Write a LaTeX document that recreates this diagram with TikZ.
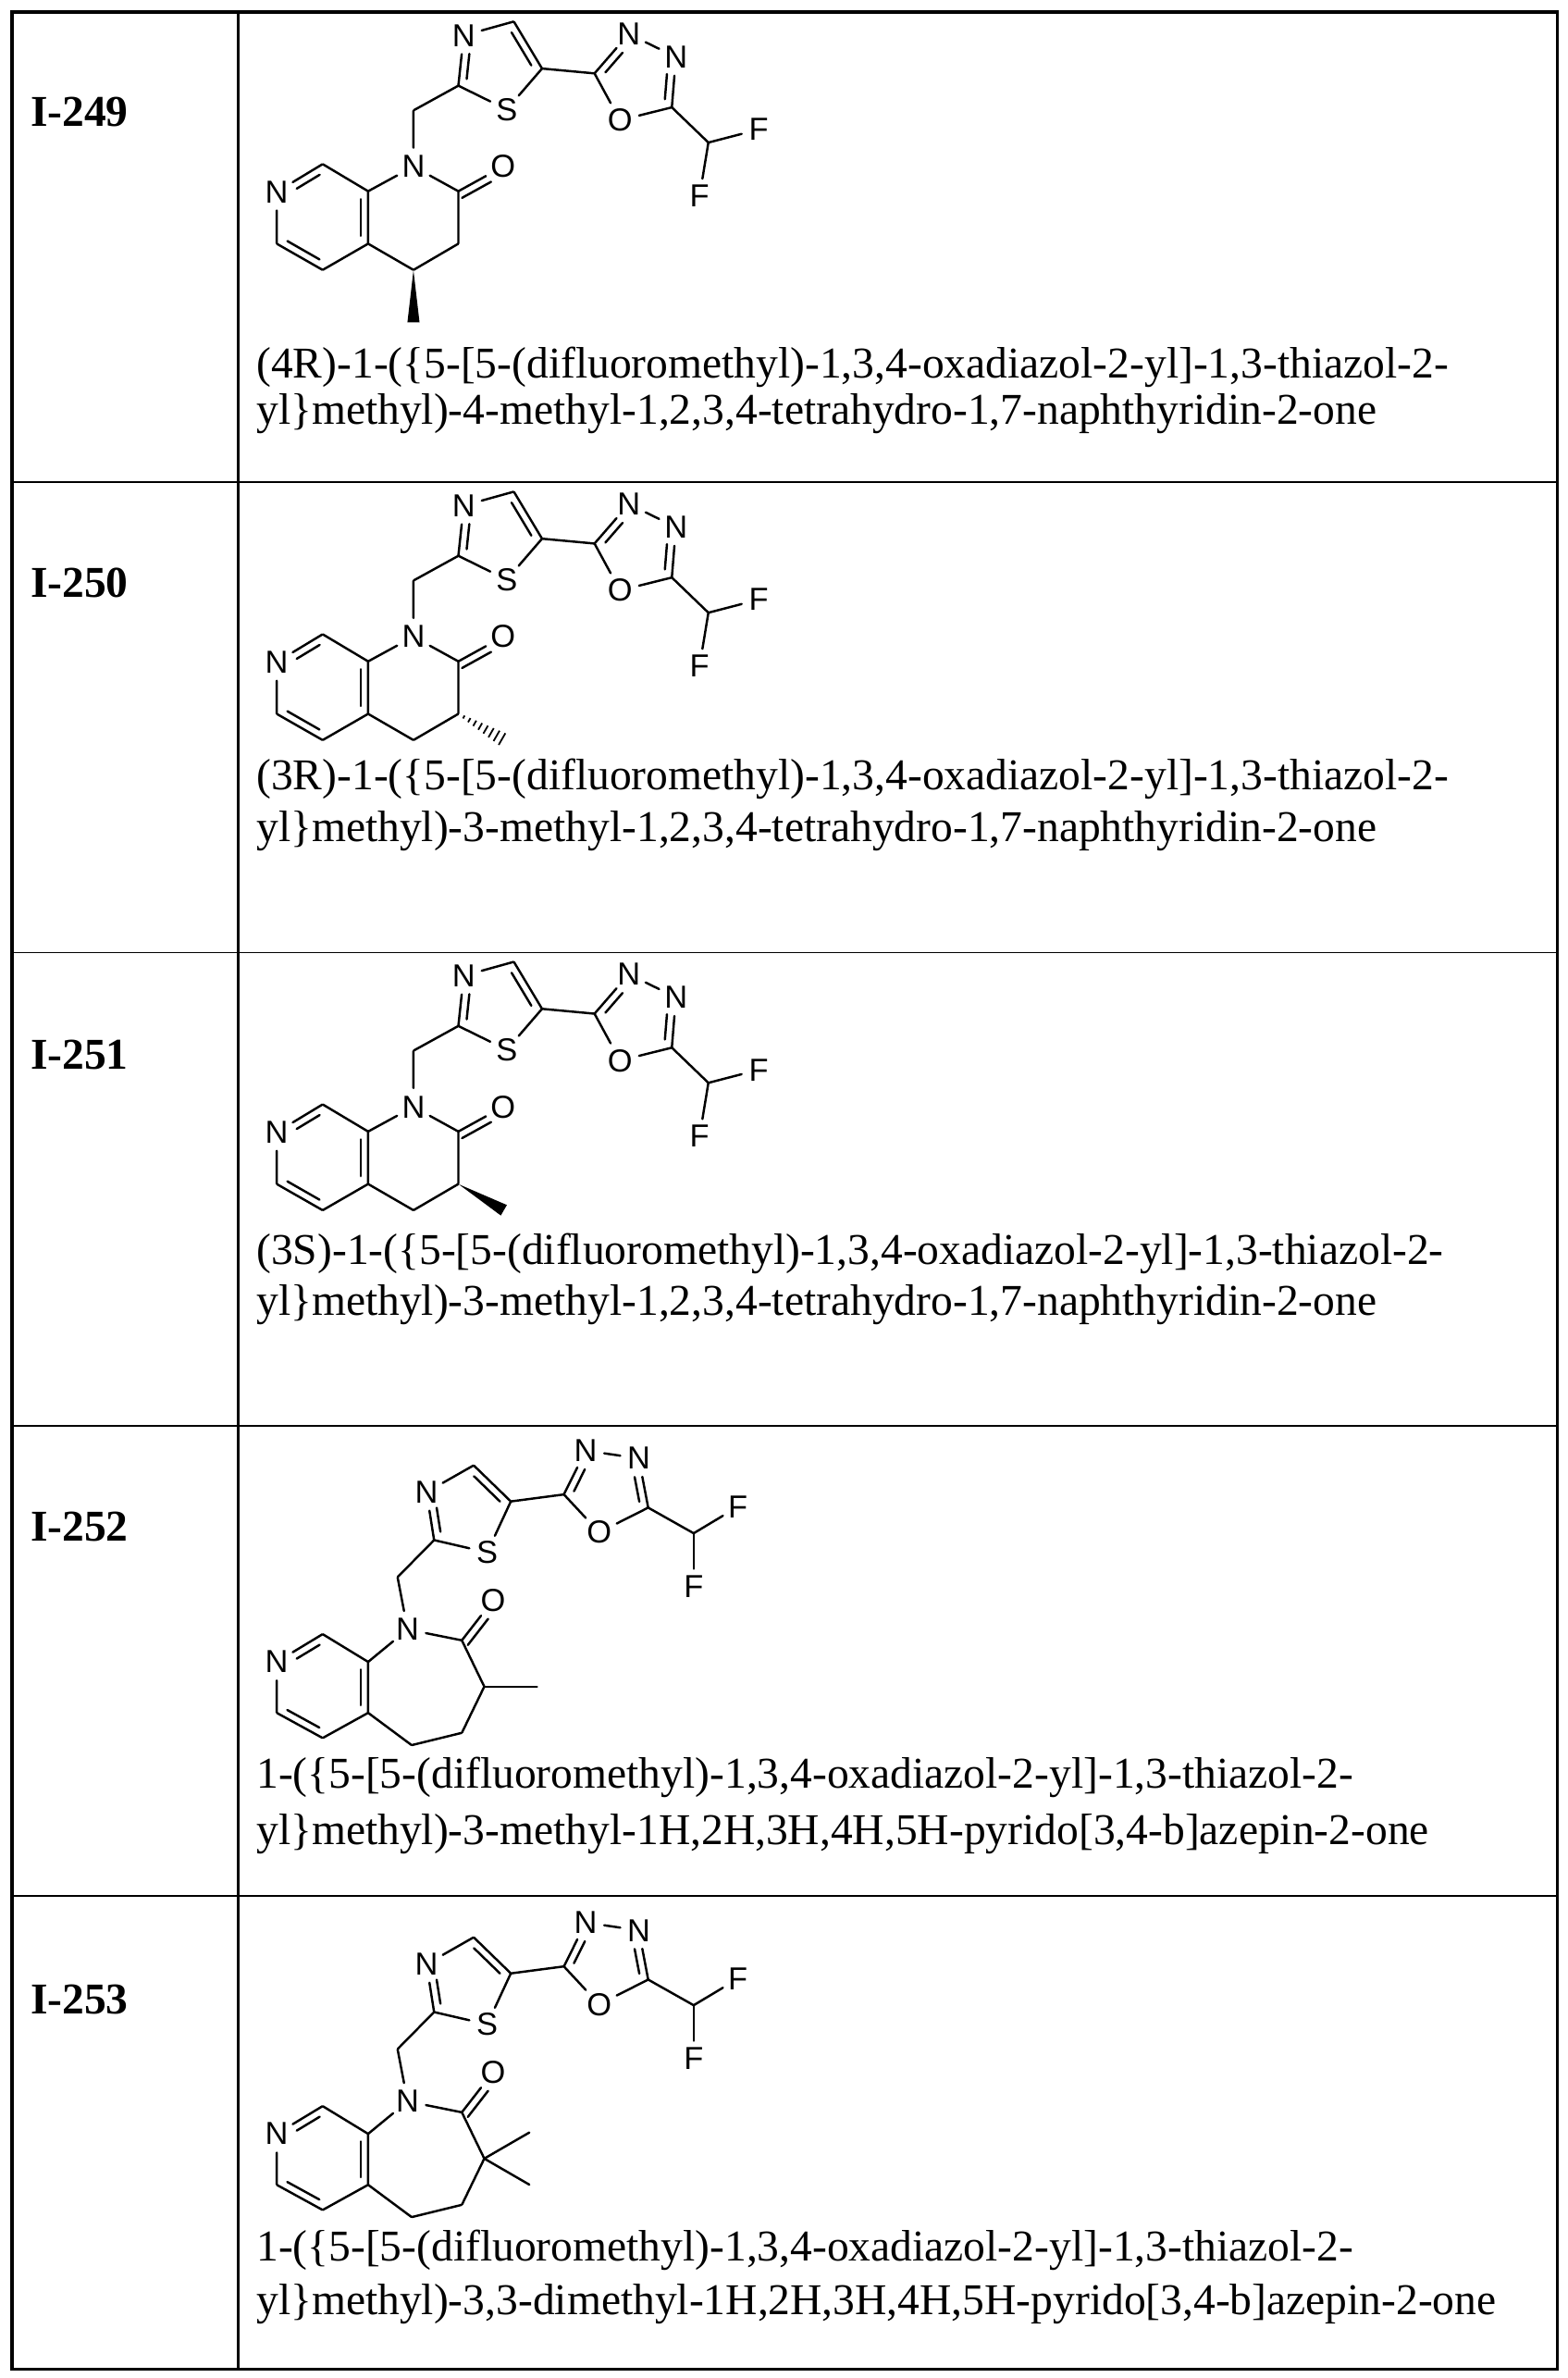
\documentclass[tikz,border=0pt]{standalone}
\usepackage{fontspec}
\setmainfont{Liberation Serif}
\newfontfamily\atomf{Liberation Sans}
\usetikzlibrary{calc}
\tikzset{
  atom/.style={font=\atomf\fontsize{21}{21}\selectfont, inner sep=1.2pt, circle},
  cpt/.style={inner sep=0pt, minimum size=0pt},
  bnd/.style={line width=1.5pt, line cap=round},
  txt/.style={font=\fontsize{29}{31}\selectfont, anchor=base west, inner sep=0pt},
  lbl/.style={font=\bfseries\fontsize{29}{31}\selectfont, anchor=base west, inner sep=0pt},
}
\newcommand\dbond[5]{%
  \path coordinate (F) at ($(#1)!(#3)!(#2)$) coordinate (D) at ($(F)!5pt!(#3)$);
  \draw[bnd] ($(#1)!#4!(#2)+(D)-(F)$) -- ($(#2)!#5!(#1)+(D)-(F)$);}
\newcommand\naph[2]{% shift, stereo: 0 wedge at C4, 1 hashed C3, 2 wedge C3
\begin{scope}[shift={(0,#1)}]
  \node[atom] (pN) at (182.5,126.5) {N};
  \node[cpt] (c8) at (212.8,108.2) {};
  \node[cpt] (c8a) at (242.8,126.1) {};
  \node[cpt] (c4a) at (242.8,160.7) {};
  \node[cpt] (c5) at (212.8,178) {};
  \node[cpt] (c6) at (182.5,160.7) {};
  \node[atom] (n1) at (272.7,109.8) {N};
  \node[cpt] (c2) at (302.3,126.1) {};
  \node[atom] (o) at (331.8,109.8) {O};
  \node[cpt] (c3) at (302.3,160.7) {};
  \node[cpt] (c4) at (272.7,178) {};
  \node[cpt] (ch2) at (272.7,72.8) {};
  \node[cpt] (t2) at (302.3,56.5) {};
  \node[atom] (t3) at (305.8,23.4) {N};
  \node[cpt] (t4) at (338.9,14.2) {};
  \node[cpt] (t5) at (357.5,45.2) {};
  \node[atom] (ts) at (334.2,72.2) {S};
  \node[cpt] (x2) at (392.1,48.4) {};
  \node[atom] (x3) at (414.7,22.4) {N};
  \node[atom] (x4) at (445.8,37.6) {N};
  \node[cpt] (x5) at (443.1,70.8) {};
  \node[atom] (xo) at (408.9,79.3) {O};
  \node[cpt] (cf) at (467.2,94) {};
  \node[atom] (f1) at (500.3,85.4) {F};
  \node[atom] (f2) at (461.4,129.2) {F};
  \coordinate (pc) at (212.8,143.4);
  \coordinate (tc) at (327.7,42.3);
  \coordinate (xc) at (420.9,51.7);
  \coordinate (os) at (335,140);
  \draw[bnd] (pN) -- (c8) -- (c8a) -- (c4a) -- (c5) -- (c6) -- (pN);
  \draw[bnd] (c8a) -- (n1) -- (c2) -- (c3) -- (c4) -- (c4a);
  \draw[bnd] (c2) -- (o);
  \draw[bnd] (n1) -- (ch2) -- (t2) -- (t3) -- (t4) -- (t5) -- (ts) -- (t2);
  \draw[bnd] (t5) -- (x2) -- (x3) -- (x4) -- (x5) -- (xo) -- (x2);
  \draw[bnd] (x5) -- (cf) -- (f1);
  \draw[bnd] (cf) -- (f2);
  \dbond{pN}{c8}{pc}{0.35}{0.15}
  \dbond{c8a}{c4a}{pc}{0.15}{0.15}
  \dbond{c5}{c6}{pc}{0.15}{0.15}
  \dbond{t2}{t3}{tc}{0.15}{0.35}
  \dbond{t4}{t5}{tc}{0.15}{0.15}
  \dbond{x2}{x3}{xc}{0.15}{0.35}
  \dbond{x4}{x5}{xc}{0.35}{0.15}
  \dbond{c2}{o}{os}{0.0}{0.35}
  \ifcase#2
    \coordinate (me) at (272.7,212.6);
    \fill (c4) -- ($(me)!4pt!90:(c4)$) -- ($(me)!4pt!-90:(c4)$) -- cycle;
  \or
    \coordinate (me) at (332.3,178);
    \foreach \t in {0.12,0.24,...,1.0}{
      \pgfmathsetmacro\w{0.6+4*\t}
      \draw[line width=1.1pt] ($(c3)!\t!(me)!\w pt!90:(me)$) -- ($(c3)!\t!(me)!\w pt!-90:(me)$);}
  \or
    \coordinate (me) at (332.3,178);
    \fill (c3) -- ($(me)!4pt!90:(c3)$) -- ($(me)!4pt!-90:(c3)$) -- cycle;
  \fi
\end{scope}}
\newcommand\azep[2]{% shift, 0 methyl, 1 dimethyl
\begin{scope}[shift={(0,#1)}]
  \node[atom] (pN) at (182.5,155.6) {N};
  \node[cpt] (c8) at (212.8,137.3) {};
  \node[cpt] (c8a) at (242.8,155.6) {};
  \node[cpt] (c4a) at (242.8,189.2) {};
  \node[cpt] (c5) at (212.8,205.8) {};
  \node[cpt] (c6) at (182.5,189.2) {};
  \node[atom] (n1) at (268.8,134.2) {N};
  \node[cpt] (c2) at (304.6,141.4) {};
  \node[atom] (o) at (325.2,114.9) {O};
  \node[cpt] (c3) at (319.4,171.9) {};
  \node[cpt] (a4) at (304.6,202.4) {};
  \node[cpt] (a5) at (271.5,210.5) {};
  \node[cpt] (ch2) at (262.2,99.7) {};
  \node[cpt] (t2) at (286.3,75.3) {};
  \node[atom] (t3) at (281.3,43.7) {N};
  \node[cpt] (t4) at (312.4,26) {};
  \node[cpt] (t5) at (336.9,49.8) {};
  \node[atom] (ts) at (321.3,83.4) {S};
  \node[cpt] (x2) at (371.9,45.2) {};
  \node[atom] (x3) at (386.3,16.3) {N};
  \node[atom] (x4) at (421.3,21.4) {N};
  \node[cpt] (x5) at (427.5,53.9) {};
  \node[atom] (xo) at (395.2,70.2) {O};
  \node[cpt] (cf) at (457.5,70.8) {};
  \node[atom] (f1) at (486.7,53.3) {F};
  \node[atom] (f2) at (457.5,105.8) {F};
  \coordinate (pc) at (212.8,171.5);
  \coordinate (tc) at (307.6,55.6);
  \coordinate (xc) at (400.4,41.4);
  \coordinate (os) at (340,140);
  \draw[bnd] (pN) -- (c8) -- (c8a) -- (c4a) -- (c5) -- (c6) -- (pN);
  \draw[bnd] (c8a) -- (n1) -- (c2) -- (c3) -- (a4) -- (a5) -- (c4a);
  \draw[bnd] (c2) -- (o);
  \draw[bnd] (n1) -- (ch2) -- (t2) -- (t3) -- (t4) -- (t5) -- (ts) -- (t2);
  \draw[bnd] (t5) -- (x2) -- (x3) -- (x4) -- (x5) -- (xo) -- (x2);
  \draw[bnd] (x5) -- (cf) -- (f1);
  \draw[bnd] (cf) -- (f2);
  \dbond{pN}{c8}{pc}{0.35}{0.15}
  \dbond{c8a}{c4a}{pc}{0.15}{0.15}
  \dbond{c5}{c6}{pc}{0.15}{0.15}
  \dbond{t2}{t3}{tc}{0.15}{0.35}
  \dbond{t4}{t5}{tc}{0.15}{0.15}
  \dbond{x2}{x3}{xc}{0.15}{0.35}
  \dbond{x4}{x5}{xc}{0.35}{0.15}
  \dbond{c2}{o}{os}{0.0}{0.35}
  \ifcase#2
    \node[cpt] (me) at (354.4,171.9) {};
    \draw[bnd] (c3) -- (me);
  \or
    \node[cpt] (me1) at (349.3,154.6) {};
    \node[cpt] (me2) at (349.3,189.2) {};
    \draw[bnd] (me1) -- (c3) -- (me2);
  \fi
\end{scope}}
\begin{document}
\begin{tikzpicture}[x=1pt,y=-1pt]
\useasboundingbox (0,0) rectangle (1034,1568);
\fill[white] (0,0) rectangle (1034,1568);
% table
\foreach \y in {318,628,940,1250} \draw[line width=1pt] (8,\y) -- (1027,\y);
\draw[line width=2pt] (157,8) -- (157,1562);
\draw[line width=2pt] (8,8) rectangle (1027,1562);
% labels
\node[lbl] (l1) at (20,83) {I-249};
\node[lbl] (l2) at (20,394) {I-250};
\node[lbl] (l3) at (20,705) {I-251};
\node[lbl] (l4) at (20,1016) {I-252};
\node[lbl] (l5) at (20,1328) {I-253};
% names
\node[txt] (a1) at (169,249) {(4R)-1-(\{5-[5-(difluoromethyl)-1,3,4-oxadiazol-2-yl]-1,3-thiazol-2-};
\node[txt] (a2) at (169,280) {yl\}methyl)-4-methyl-1,2,3,4-tetrahydro-1,7-naphthyridin-2-one};
\node[txt] (b1) at (169,521) {(3R)-1-(\{5-[5-(difluoromethyl)-1,3,4-oxadiazol-2-yl]-1,3-thiazol-2-};
\node[txt] (b2) at (169,555) {yl\}methyl)-3-methyl-1,2,3,4-tetrahydro-1,7-naphthyridin-2-one};
\node[txt] (c1) at (169,834) {(3S)-1-(\{5-[5-(difluoromethyl)-1,3,4-oxadiazol-2-yl]-1,3-thiazol-2-};
\node[txt] (c2t) at (169,867) {yl\}methyl)-3-methyl-1,2,3,4-tetrahydro-1,7-naphthyridin-2-one};
\node[txt] (d1) at (169,1179) {1-(\{5-[5-(difluoromethyl)-1,3,4-oxadiazol-2-yl]-1,3-thiazol-2-};
\node[txt] (d2) at (169,1216) {yl\}methyl)-3-methyl-1H,2H,3H,4H,5H-pyrido[3,4-b]azepin-2-one};
\node[txt] (e1) at (169,1491) {1-(\{5-[5-(difluoromethyl)-1,3,4-oxadiazol-2-yl]-1,3-thiazol-2-};
\node[txt] (e2) at (169,1526) {yl\}methyl)-3,3-dimethyl-1H,2H,3H,4H,5H-pyrido[3,4-b]azepin-2-one};
% molecules
\naph{0}{0}
\naph{310}{1}
\naph{620}{2}
\azep{940.2}{0}
\azep{1251.4}{1}
\end{tikzpicture}
\end{document}
